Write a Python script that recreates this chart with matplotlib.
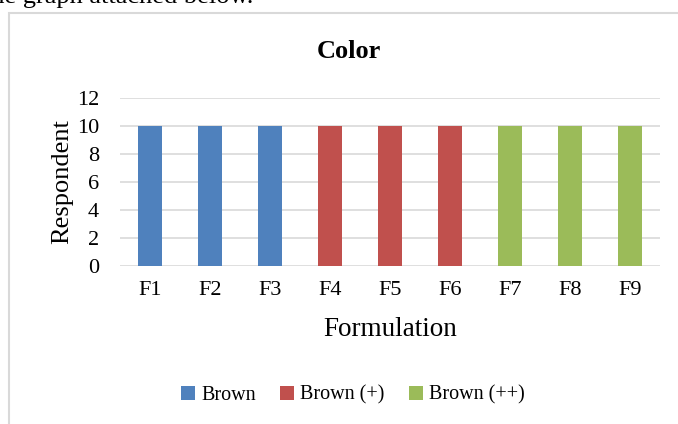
#!/usr/bin/env python3

import matplotlib
matplotlib.use('Agg')
import matplotlib.pyplot as plt
from matplotlib.patches import Rectangle
import numpy as np

plt.rcParams['font.family'] = ['Liberation Serif', 'DejaVu Serif']

# data
categories = ['F1', 'F2', 'F3', 'F4', 'F5', 'F6', 'F7', 'F8', 'F9']
respondents = [10, 10, 10, 10, 10, 10, 10, 10, 10]
groups = ['Brown', 'Brown', 'Brown', 'Brown (+)', 'Brown (+)', 'Brown (+)',
          'Brown (++)', 'Brown (++)', 'Brown (++)']
group_names = ['Brown', 'Brown (+)', 'Brown (++)']
group_colors = ['#4F81BD', '#C0504D', '#9BBB59']

W, H = 678, 424
fig = plt.figure(figsize=(W / 100, H / 100), dpi=100)

# chart frame (bleeds off the right and bottom edges)
fig.patches.append(Rectangle((8.5 / W, -0.1), 1.2, 1 - 13.5 / H + 0.1,
                             transform=fig.transFigure, fill=False,
                             edgecolor='#D9D9D9', linewidth=1.5))

# cut-off line of body text above the chart
fig.text(253 / W, 1 - 3 / H, 'the graph attached below.', ha='right',
         va='baseline', fontsize=19)

ax = fig.add_axes([120 / W, 1 - 266 / H, 540 / W, 168 / H])
x = np.arange(len(categories))
for name, color in zip(group_names, group_colors):
    idx = [i for i, g in enumerate(groups) if g == name]
    ax.bar(x[idx], [respondents[i] for i in idx], width=0.4, color=color,
           label=name, zorder=3)

ax.set_xlim(-0.5, len(categories) - 0.5)
ax.set_ylim(0, 12)
ax.set_yticks(np.arange(0, 13, 2))
ax.set_xticks(x)
ax.set_xticklabels(categories)
ax.tick_params(length=0, labelsize=16)
ax.tick_params(axis='x', pad=11)
ax.tick_params(axis='y', pad=15)
ax.grid(axis='y', color='#D9D9D9', linewidth=1.2, zorder=0)
for s in ax.spines.values():
    s.set_visible(False)

ax.set_ylabel('Respondent', fontsize=19, labelpad=3)
ax.set_xlabel('Formulation', fontsize=19.5, labelpad=12)

# title is centred on the chart frame, not on the plot area
fig.text(349 / W, 1 - 51 / H, 'Color', ha='center', va='center',
         fontsize=19, fontweight='bold')

fig.legend(loc='center', bbox_to_anchor=(353 / W, 1 - 395 / H), ncol=3,
           frameon=False, fontsize=14.5, handlelength=0.7, handleheight=0.7,
           handletextpad=0.3, columnspacing=1.2)

fig.savefig('out.png', dpi=100)
